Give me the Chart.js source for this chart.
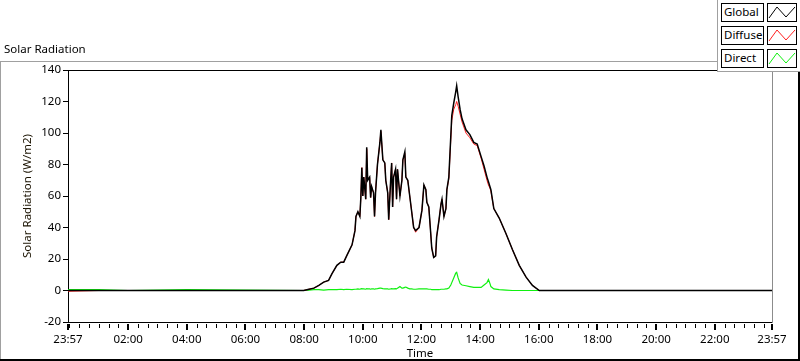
<!DOCTYPE html>
<html>
<head>
<meta charset="utf-8">
<script src="https://cdn.jsdelivr.net/npm/chart.js@4.4.1/dist/chart.umd.min.js"></script>
<style>
  body { margin: 0; background: #fff; overflow: hidden; }
  #wrap { position: relative; width: 800px; height: 361px; font-family: "Noto Sans", sans-serif; }
  canvas { position: absolute; left: 0; top: 0; }
  .ln { position: absolute; }
  #title { position: absolute; left: 4px; top: 41px; font-size: 11.5px; color: #000; }
  #legend { position: absolute; left: 717px; top: 0; width: 82px; height: 71px; background: #fff;
            border-left: 1px solid #a0a0a0; border-bottom: 1px solid #a0a0a0; }
  .lab { position: absolute; left: 3px; width: 39px; height: 17px; border: 1px solid #000;
         font-size: 11.5px; line-height: 16px; padding-left: 2px; box-sizing: content-box; }
  .ico { position: absolute; left: 49px; width: 28px; height: 17px; border: 1px solid #000; background: #fff; }
</style>
</head>
<body>
<div id="wrap">
  <canvas id="chart" width="800" height="361"></canvas>
  <div class="ln" style="left:0;top:61px;width:717px;height:1px;background:#a0a0a0"></div>
  <div class="ln" style="left:0;top:61px;width:1px;height:298px;background:#a0a0a0"></div>
  <div class="ln" style="left:0;top:359px;width:800px;height:2px;background:#000"></div>
  <div class="ln" style="left:798px;top:72px;width:2px;height:289px;background:#000"></div>
  <div id="title">Solar Radiation</div>
  <div id="legend"></div>
</div>
<script>
// time in minutes since midnight, axis runs 23:57 -> 23:57
const times = [-3, 60, 120, 240, 360, 479, 490, 500, 510, 520, 530, 537, 547, 555, 561, 567, 578, 584, 586, 590,
  594, 596, 598, 600, 602, 606, 608, 610, 614, 616, 618, 622, 624, 626, 630, 635, 637, 641, 645, 647,
  651, 653, 657, 659, 661, 663, 667, 669, 671, 676, 680, 682, 686, 688, 692, 696, 700, 704, 708, 715,
  721, 725, 729, 731, 735, 739, 741, 745, 749, 751, 756, 760, 762, 766, 770, 772, 776, 780, 782, 786,
  790, 792, 795, 799, 803, 811, 819, 827, 834, 842, 848, 854, 857, 860, 862, 868, 879, 893, 906, 920,
  934, 947, 961, 1080, 1200, 1437];

const globalRad = [0, 0, 0, 0, 0, 0, 0.8, 1.5, 3.2, 5.3, 6.4, 10.7, 16, 18, 18, 22, 29, 38, 47, 50,
  47, 59, 78, 60, 72, 58, 91, 70, 72, 59, 66, 62, 47, 62, 80, 94, 102, 83, 81, 70,
  62, 45, 70, 81, 53, 72, 77, 58, 77, 60, 70, 83, 88, 72, 70, 60, 50, 40, 38, 40,
  51, 67, 64, 56, 53, 36, 27, 21, 22, 34, 45, 55, 58, 47, 52, 64, 72, 98, 111, 119,
  126, 130, 123, 115, 109, 102, 99, 94, 93, 85, 79, 72, 69, 66, 64, 52, 46, 36, 26, 16,
  8.5, 3.2, 0, 0, 0, 0];

const diffuseRad = [-0.5, 0, 0, 0, 0, 0, 0.8, 1.5, 3.2, 5.3, 6.4, 10.7, 16, 18, 18, 22, 29, 38, 47, 50,
  47, 59, 78, 60, 72, 58, 90, 70, 72, 59, 66, 62, 47, 62, 80, 94, 101, 83, 81, 70,
  62, 45, 70, 81, 53, 72, 77, 58, 77, 60, 70, 83, 87, 72, 70, 60, 50, 40, 37, 40,
  51, 67, 64, 56, 53, 36, 27, 21, 22, 34, 45, 55, 58, 47, 52, 64, 71, 96, 108, 115,
  118, 120, 117, 112, 107, 100, 97, 93, 92, 84, 77, 70, 67, 65, 63, 52, 46, 36, 26, 16,
  8.5, 3.2, 0, 0, 0, 0];

const directRad = [0.5, 0.5, 0, 0.5, 0.3, 0, 0.3, 0.5, 0.5, 0.3, 0.5, 0.5, 0.5, 0.8, 0.5, 0.8, 0.6, 0.8, 0.8, 1,
  0.8, 1, 1.2, 1, 1, 0.8, 1.2, 1, 1, 0.8, 1, 1, 0.8, 1, 1.2, 1.5, 1.5, 1.2, 1, 1,
  1, 0.8, 1, 1.2, 1, 1, 1.2, 1, 1.5, 2.5, 1.5, 1.5, 2, 2.2, 1.5, 1, 1, 0.8, 0.8, 1,
  1, 1, 1, 1, 0.8, 0.8, 0.5, 0.5, 0.5, 0.5, 0.5, 0.8, 0.8, 0.8, 1, 1, 1.5, 3.5, 5, 8,
  11, 11.5, 8, 4.5, 3.5, 3, 2.5, 2, 2, 2, 3.5, 5, 7, 4.5, 2.5, 1, 0.5, 0.3, 0, 0,
  0, 0, 0, 0, 0, 0];

const yTicks = [-20, 0, 20, 40, 60, 80, 100, 120, 140];
const xMajor = [-3, 120, 240, 360, 480, 600, 720, 840, 960, 1080, 1200, 1320, 1437];

const seriesNames = ["Global", "Diffuse", "Direct"];
const seriesColors = ["#000000", "#ff2020", "#10f010"];
const seriesWidths = [1.5, 1, 1.2];
const seriesData = [globalRad, diffuseRad, directRad];

const fmtTime = (v) => {
  if (v < 0 || v >= 1437) return "23:57";
  const h = Math.floor(v / 60), m = v % 60;
  return String(h).padStart(2, "0") + ":" + String(m).padStart(2, "0");
};

// legend boxes
const legend = document.getElementById("legend");
seriesNames.forEach((name, i) => {
  const top = 3 + i * 23;
  legend.innerHTML +=
    '<div class="lab" style="top:' + top + 'px">' + name + '</div>' +
    '<div class="ico" style="top:' + top + 'px"><svg width="28" height="17">' +
    '<polyline points="1,14 9,3 18,13 27,3" fill="none" stroke="' + seriesColors[i] + '" stroke-width="1"/></svg></div>';
});

// plot frame (top, right) and x tick marks
const frameTicks = {
  id: "frameTicks",
  afterDraw(chart) {
    const { ctx, chartArea: a, scales: { x } } = chart;
    ctx.save();
    ctx.fillStyle = "#000";
    ctx.fillRect(a.left, a.top, a.right - a.left, 1);
    ctx.fillStyle = "#8c8c8c";
    ctx.fillRect(Math.round(a.right), a.top, 1, a.bottom - a.top + 1);
    ctx.fillStyle = "#000";
    for (let t = 0; t < 1437; t += 20) {
      if (t % 120 === 0 && t > 0) continue;
      const px = Math.round(x.getPixelForValue(t));
      ctx.fillRect(px, a.bottom + 2, 1, 4);
    }
    xMajor.forEach((t) => {
      const px = Math.round(x.getPixelForValue(t));
      ctx.fillRect(px - 1, a.bottom + 2, 2, 6);
    });
    ctx.restore();
  }
};

const font = { family: "Noto Sans", size: 11.5 };

const ctx = document.getElementById("chart").getContext("2d");
const myChart = new Chart(ctx, {
  type: "line",
  data: {
    datasets: seriesNames.map((name, i) => ({
      label: name,
      data: times.map((t, k) => ({ x: t, y: seriesData[i][k] })),
      borderColor: seriesColors[i],
      borderWidth: seriesWidths[i],
      pointRadius: 0,
      tension: 0,
      order: i
    }))
  },
  options: {
    responsive: false,
    animation: false,
    layout: { padding: { left: 0, top: 70, right: 28, bottom: 0 } },
    plugins: { legend: { display: false }, tooltip: { enabled: false } },
    scales: {
      x: {
        type: "linear",
        min: -3,
        max: 1437,
        afterFit: (s) => { s.height = 39; },
        afterBuildTicks: (s) => { s.ticks = xMajor.map((v) => ({ value: v })); },
        grid: { display: false },
        border: { display: true, color: "#000", width: 1 },
        ticks: { autoSkip: false, maxRotation: 0, padding: 3, color: "#000", font, callback: (v) => fmtTime(v) },
        title: { display: true, text: "Time", color: "#000", font, padding: { top: 0, bottom: 0 } }
      },
      y: {
        min: -20,
        max: 140,
        afterFit: (s) => { s.width = 68; },
        afterBuildTicks: (s) => { s.ticks = yTicks.map((v) => ({ value: v })); },
        grid: { drawOnChartArea: false, drawTicks: true, tickLength: 5, color: "#000" },
        border: { display: true, color: "#000", width: 1 },
        ticks: { padding: 2, color: "#000", font },
        title: { display: true, text: "Solar Radiation (W/m2)", color: "#1a1200", font, padding: { top: 21, bottom: 0 } }
      }
    }
  },
  plugins: [frameTicks]
});
</script>
</body>
</html>
